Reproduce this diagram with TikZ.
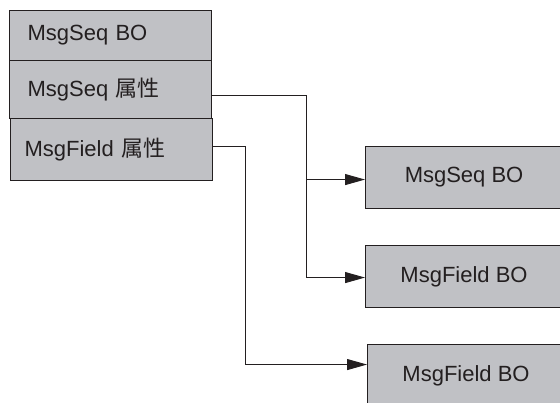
\documentclass[tikz,border=0pt]{standalone}
\usepackage{fontspec}
\setmainfont{Liberation Sans}
\newfontfamily\cjk{Noto Sans CJK SC}
\usetikzlibrary{arrows.meta,calc}
\definecolor{boxgray}{RGB}{192,193,197}
\definecolor{ink}{RGB}{35,31,32}
\begin{document}
\begin{tikzpicture}[x=1pt,y=-1pt,
  row/.style={draw=ink, line width=1.1pt, fill=boxgray, minimum width=202pt,
    text width=166pt, inner xsep=18pt, inner ysep=0pt, align=left,
    font=\fontsize{22}{24}\selectfont, text=ink, anchor=north west},
  bo/.style={draw=ink, line width=1.1pt, fill=boxgray, minimum width=197pt,
    minimum height=62pt, font=\fontsize{22}{24}\selectfont, text=ink,
    anchor=north west, inner sep=0pt},
  conn/.style={draw=ink, line width=0.9pt},
  arr/.style={conn, -{Triangle[length=20pt,width=11pt]}}]
\useasboundingbox (0,0) rectangle (560,402);
\clip (0,0) rectangle (560,402);
\node[row, minimum height=50pt] (r1) at (9,10) {MsgSeq BO};
\node[row, minimum height=58pt] (r2) at (9,60) {MsgSeq {\cjk 属性}};
\node[row, minimum height=62pt, inner xsep=13.5pt, text width=174pt] (r3) at (10,118) {MsgField {\cjk 属性}};
\node[bo] (b1) at (365,146) {MsgSeq BO};
\node[bo] (b2) at (365,245) {MsgField BO};
\node[bo] (b3) at (367,344) {MsgField BO};
\coordinate (j1) at (306,0);
\coordinate (j2) at (245,0);
\coordinate (s2) at ([yshift=-6pt]r2.east);
\coordinate (s3) at ([yshift=3pt]r3.east);
\coordinate (t1) at ([yshift=-2pt]b1.west);
\coordinate (t2) at ([yshift=-1pt]b2.west);
\coordinate (t3) at ([yshift=11pt]b3.west);
\draw[arr] (s2) -| (j1 |- t1) -- (t1);
\draw[arr] (s2) -| (j1 |- t2) -- (t2);
\draw[arr] (s3) -| (j2 |- t3) -- (t3);
\end{tikzpicture}
\end{document}
